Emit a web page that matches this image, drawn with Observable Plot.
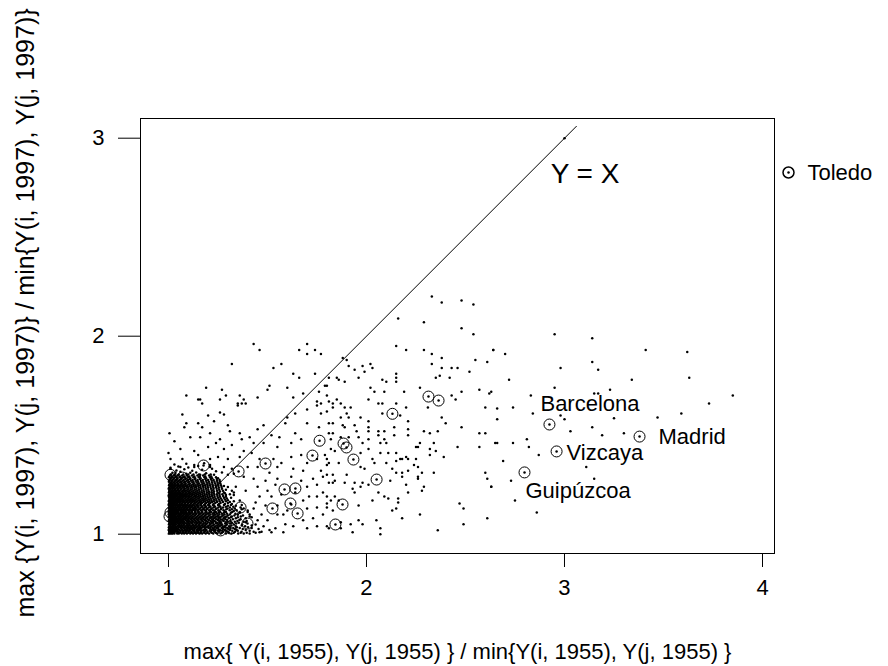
<!DOCTYPE html>
<html>
<head>
<meta charset="utf-8">
<script src="https://cdn.jsdelivr.net/npm/d3@7"></script>
<script src="https://cdn.jsdelivr.net/npm/@observablehq/plot@0.6"></script>
<style>
  html, body { margin: 0; padding: 0; background: #fff; }
  #chart { width: 888px; height: 666px; overflow: hidden; }
</style>
</head>
<body>
<div id="chart"></div>
<script>
// ---- axis ticks and titles ----
const xTicks = [1, 2, 3, 4];
const yTicks = [1, 2, 3];
const xTitle = "max{ Y(i, 1955), Y(j, 1955) } / min{Y(i, 1955), Y(j, 1955) }";
const yTitle = "max {Y(i, 1997), Y(j, 1997)} / min{Y(i, 1997), Y(j, 1997)}";

// ---- reference line Y = X (segment ends) ----
const lineEnds = [1, 3.06];
const lineLabel = "Y = X";
const lineLabelPos = [2.93, 2.82];

// ---- scattered pairs (x = 1955 ratio, y = 1997 ratio) ----
const pairs = [
  [1.43,1.96],[1.46,1.93],[1.32,1.86],[1.53,1.84],[1.57,1.86],[1.66,1.93],[1.70,1.96],[1.70,1.91],
  [1.74,1.93],[1.77,1.91],[1.63,1.81],[1.66,1.79],[1.74,1.81],[1.19,1.74],[1.27,1.73],[1.09,1.70],
  [1.16,1.68],[1.26,1.68],[1.29,1.70],[1.36,1.70],[1.38,1.68],[1.45,1.69],[1.51,1.75],[1.50,1.73],
  [1.60,1.74],[1.63,1.69],[1.68,1.71],[1.76,1.72],[1.80,1.75],[1.80,1.70],[1.75,1.67],[1.77,1.66],
  [1.35,1.66],[1.39,1.66],[1.17,1.66],[1.81,1.79],
  [2.33,2.20],[2.38,2.17],[2.48,2.18],[2.54,2.16],[2.16,2.09],[2.29,2.07],[2.48,2.04],[2.54,2.01],
  [2.15,1.95],[2.20,1.93],[2.29,1.93],[2.33,1.91],[2.38,1.89],[2.64,1.93],[2.55,1.88],[2.61,1.87],
  [2.33,1.86],[2.38,1.84],[2.43,1.84],[2.46,1.84],[2.52,1.82],[2.35,1.79],[2.37,1.80],[2.42,1.79],
  [1.88,1.89],[1.90,1.88],[1.91,1.85],[1.94,1.83],[1.98,1.85],[2.02,1.86],[2.03,1.84],[1.99,1.82],
  [1.96,1.79],[1.85,1.79],[1.86,1.78],[1.89,1.77],[2.08,1.78],[2.10,1.77],[2.15,1.81],[2.15,1.79],
  [2.15,1.77],[2.02,1.74],[2.04,1.72],[2.09,1.72],[2.19,1.72],[2.27,1.74],[2.48,1.72],[2.57,1.73],
  [2.62,1.71],[2.43,1.70],[2.45,1.68],[2.01,1.68],[2.06,1.66],[2.08,1.66],[2.15,1.66],[1.85,1.68],
  [1.87,1.66],[1.79,1.75],[1.81,1.67],
  [1.83,1.66],[1.80,1.62],[1.83,1.64],[1.89,1.64],[1.92,1.64],[1.90,1.61],[1.87,1.59],[1.91,1.59],
  [1.97,1.59],[2.01,1.57],[2.08,1.61],[2.20,1.64],[2.17,1.60],[2.21,1.57],[2.31,1.64],[2.38,1.59],
  [2.40,1.56],[2.60,1.64],[1.81,1.56],[1.83,1.56],[1.88,1.55],[1.89,1.54],[1.94,1.55],[2.01,1.54],
  [1.95,1.52],[1.83,1.51],[1.87,1.49],[1.91,1.49],[1.96,1.49],[2.01,1.52],[2.06,1.52],[2.09,1.52],
  [2.06,1.50],[2.09,1.48],[2.14,1.54],[2.14,1.50],[2.21,1.53],[2.21,1.50],[2.29,1.52],[2.32,1.51],
  [2.36,1.52],[2.48,1.54],[2.57,1.51],[2.60,1.51],[2.65,1.46],[1.82,1.48],[1.82,1.43],[1.84,1.42],
  [1.98,1.46],[2.01,1.48],[2.07,1.46],[2.10,1.46],[2.01,1.43],[1.97,1.41],[2.07,1.41],[2.11,1.41],
  [2.15,1.41],[2.17,1.38],[2.20,1.39],[2.25,1.44],[2.27,1.46],[2.26,1.44],[2.32,1.43],[2.34,1.46],
  [2.35,1.42],[2.46,1.44],[2.57,1.44],[1.80,1.38],[1.81,1.36],[1.86,1.36],[1.97,1.34],[1.99,1.33],
  [2.03,1.38],[2.04,1.36],[2.10,1.36],[2.15,1.37],[2.18,1.38],[2.21,1.38],[2.25,1.38],[2.24,1.35],
  [2.26,1.34],[2.32,1.40],[2.39,1.39],[2.13,1.33],[2.15,1.31],[2.18,1.31],[2.21,1.32],[2.28,1.31],
  [2.34,1.31],[2.60,1.31],[2.61,1.28],[2.63,1.24],[1.80,1.30],[1.83,1.30],[1.84,1.27],[1.83,1.26],
  [1.90,1.30],[1.89,1.26],[1.94,1.26],[1.98,1.26],[2.01,1.25],[1.97,1.24],[1.93,1.23],[1.94,1.21],
  [2.12,1.27],[2.18,1.29],[2.26,1.29],[2.26,1.28],[2.29,1.24],[2.28,1.22],[2.20,1.25],[2.21,1.21],
  [2.06,1.21],[2.09,1.19],[2.11,1.18],[2.16,1.18],[2.16,1.16],[2.13,1.12],[2.15,1.13],[2.03,1.17],
  [1.80,1.19],[1.82,1.17],[1.84,1.19],[1.86,1.17],[1.96,1.145],[1.80,1.135],[1.83,1.12],[2.18,1.08],
  [2.27,1.10],[2.05,1.07],[1.96,1.07],[1.98,1.05],[1.92,1.05],[1.87,1.06],[1.81,1.03],[1.87,1.03],
  [1.93,1.01],[2.07,1.03],[2.07,1.00],[2.36,1.02],[2.47,1.155],[2.49,1.13],[2.49,1.05],[2.61,1.08],
  [2.95,2.01],[3.14,1.99],[2.64,1.93],[2.70,1.91],[3.14,1.87],[3.17,1.83],[2.98,1.84],[2.72,1.78],
  [3.34,1.78],[2.95,1.74],[3.15,1.71],[3.17,1.71],[3.23,1.73],[2.83,1.70],[2.63,1.72],[2.66,1.635],
  [2.74,1.64],[2.84,1.61],[2.98,1.60],[3.00,1.58],[2.66,1.58],[3.25,1.585],[3.03,1.52],[3.14,1.54],
  [3.19,1.50],[3.30,1.51],[2.81,1.48],[2.66,1.46],[2.74,1.46],[2.82,1.44],[2.87,1.40],[2.69,1.37],
  [3.11,1.34],[2.73,1.27],[3.15,1.28],[2.63,1.24],[2.75,1.17],[2.86,1.11],
  [3.41,1.93],[3.62,1.92],[3.63,1.79],[3.85,1.70],[3.73,1.66],[3.59,1.61],[3.47,1.59],[3.00,3.00],
  [1.15,1.68],[1.26,1.615],[1.28,1.605],[1.35,1.65],[1.37,1.66],[1.07,1.605],[1.09,1.56],[1.08,1.54],
  [1.15,1.56],[1.17,1.54],[1.20,1.60],[1.23,1.57],[1.30,1.55],[1.31,1.52],[1.21,1.51],[1.16,1.49],
  [1.005,1.51],[1.03,1.47],[1.11,1.49],[1.26,1.48],[1.24,1.46],[1.36,1.51],[1.37,1.48],[1.41,1.49],
  [1.45,1.53],[1.48,1.55],[1.52,1.50],[1.56,1.49],[1.59,1.56],[1.60,1.59],[1.64,1.61],[1.70,1.63],
  [1.75,1.65],[1.77,1.61],[1.70,1.56],[1.76,1.54],[1.81,1.51],[1.64,1.51],[1.67,1.48],[1.62,1.46],
  [1.55,1.44],[1.48,1.46],[1.43,1.46],[1.38,1.42],[1.32,1.45],[1.28,1.43],[1.20,1.44],[1.13,1.42],
  [1.06,1.43],[1.00,1.41],[1.01,1.38],[1.07,1.38],[1.15,1.40],[1.21,1.38],[1.25,1.39],[1.30,1.38],
  [1.36,1.39],[1.42,1.41],[1.46,1.38],[1.53,1.38],[1.57,1.36],[1.62,1.39],[1.67,1.40],[1.70,1.36],
  [1.75,1.38],[1.79,1.40],[1.80,1.35],[1.77,1.32],[1.68,1.32],[1.63,1.33],[1.55,1.34],[1.51,1.31],
  [1.45,1.34],[1.40,1.34],[1.38,1.29],[1.32,1.33],[1.28,1.34],[1.21,1.35],[1.13,1.34],[1.06,1.34],
  [1.01,1.33],[1.035,1.31],[1.11,1.31],[1.16,1.30],[1.23,1.30],[1.30,1.30],[1.43,1.28],[1.49,1.27],
  [1.55,1.28],[1.62,1.29],[1.67,1.27],[1.73,1.28],[1.78,1.29],[1.81,1.26],[1.75,1.25],[1.70,1.24],
  [1.54,1.25],[1.50,1.22],[1.45,1.24],[1.39,1.22],[1.34,1.24],[1.78,1.21],[1.75,1.19],[1.71,1.19],
  [1.68,1.17],[1.57,1.20],[1.52,1.19],[1.46,1.19],[1.55,1.145],[1.49,1.145],[1.47,1.10],[1.55,1.10],
  [1.58,1.10],[1.70,1.13],[1.75,1.135],[1.80,1.155],[1.78,1.10],[1.73,1.08],[1.68,1.07],[1.75,1.04],
  [1.80,1.04],[1.70,1.03],[1.63,1.04],[1.59,1.05],[1.54,1.03],[1.48,1.04],[1.58,1.01],[1.52,1.01],
  [1.46,1.01],[1.45,1.07],[1.41,1.09],[1.43,1.13],[1.36,1.17],[1.40,1.12],[1.33,1.21],[1.44,1.16],
  [1.60,1.12],[1.64,1.21],[1.39,1.06],[1.50,1.07],[1.62,1.15],[1.35,1.10],
  [1.02,1.31],[1.06,1.315],[1.09,1.305],[1.14,1.312],[1.19,1.308],[1.24,1.318],[1.04,1.322],
  [1.08,1.328],[1.12,1.32],[1.17,1.325],[1.22,1.33],[1.01,1.336],[1.05,1.342],[1.10,1.337],
  [1.15,1.345],[1.21,1.34],[1.03,1.352],[1.09,1.356],[1.13,1.35],[1.18,1.358],[1.27,1.312],[1.33,1.305]
];

// dense core near (1, 1): each row = [y, list of x values]
const coreRows = [
  [1.003, [1.002,1.008,1.015,1.021,1.03,1.044,1.052,1.067,1.079,1.093,1.11,1.124,1.139,1.156,1.17,1.188,1.205,1.226,1.247,1.263,1.29,1.318,1.352,1.38,1.41]],
  [1.007, [1.005,1.018,1.026,1.047,1.058,1.073,1.085,1.102,1.115,1.133,1.149,1.163,1.18,1.196,1.218,1.24,1.27,1.305,1.33,1.365,1.395,1.44]],
  [1.012, [1.004,1.011,1.019,1.027,1.038,1.049,1.061,1.072,1.088,1.1,1.117,1.131,1.146,1.162,1.181,1.197,1.214,1.233,1.255,1.277,1.301,1.336,1.369,1.43,1.47]],
  [1.017, [1.003,1.012,1.03,1.045,1.06,1.078,1.091,1.106,1.128,1.15,1.168,1.186,1.208,1.23,1.25,1.272,1.293,1.322,1.35,1.41]],
  [1.021, [1.001,1.007,1.016,1.024,1.033,1.042,1.055,1.069,1.083,1.097,1.108,1.122,1.142,1.158,1.176,1.192,1.219,1.238,1.259,1.284,1.31,1.344,1.39,1.51]],
  [1.026, [1.009,1.02,1.037,1.048,1.066,1.081,1.094,1.114,1.13,1.147,1.163,1.185,1.211,1.229,1.252,1.275,1.302,1.335,1.375,1.455]],
  [1.031, [1.003,1.013,1.022,1.029,1.041,1.05,1.063,1.076,1.09,1.104,1.119,1.135,1.151,1.166,1.183,1.202,1.222,1.244,1.268,1.297,1.327,1.36,1.42]],
  [1.035, [1.002,1.016,1.026,1.038,1.055,1.068,1.082,1.097,1.11,1.126,1.141,1.158,1.172,1.193,1.211,1.232,1.25,1.276,1.312,1.345,1.402]],
  [1.040, [1.006,1.012,1.02,1.035,1.046,1.058,1.071,1.086,1.099,1.113,1.128,1.144,1.16,1.179,1.199,1.216,1.236,1.258,1.283,1.306,1.34,1.387]],
  [1.044, [1.008,1.024,1.031,1.052,1.064,1.077,1.092,1.106,1.12,1.135,1.152,1.169,1.185,1.205,1.225,1.246,1.266,1.29,1.318,1.37,1.42]],
  [1.049, [1.002,1.01,1.018,1.027,1.039,1.053,1.066,1.079,1.095,1.107,1.125,1.138,1.155,1.172,1.189,1.21,1.229,1.252,1.271,1.295,1.33,1.372,1.44]],
  [1.054, [1.004,1.015,1.022,1.035,1.048,1.061,1.074,1.089,1.103,1.118,1.142,1.16,1.178,1.195,1.217,1.24,1.26,1.286,1.31,1.342]],
  [1.058, [1.005,1.014,1.025,1.032,1.044,1.057,1.07,1.082,1.098,1.115,1.132,1.148,1.163,1.186,1.207,1.225,1.248,1.266,1.292,1.32,1.355]],
  [1.063, [1.007,1.02,1.029,1.041,1.052,1.066,1.078,1.094,1.108,1.123,1.141,1.157,1.176,1.198,1.219,1.238,1.261,1.3,1.335,1.38]],
  [1.067, [1.001,1.009,1.017,1.028,1.037,1.048,1.062,1.074,1.091,1.103,1.12,1.136,1.152,1.17,1.19,1.213,1.231,1.256,1.279,1.312,1.348,1.395]],
  [1.072, [1.003,1.014,1.025,1.034,1.046,1.059,1.071,1.086,1.099,1.116,1.131,1.148,1.166,1.184,1.204,1.225,1.25,1.272,1.296,1.358]],
  [1.076, [1.004,1.012,1.023,1.031,1.043,1.055,1.068,1.081,1.096,1.111,1.127,1.143,1.161,1.177,1.198,1.22,1.242,1.263,1.288,1.325,1.364]],
  [1.081, [1.008,1.016,1.028,1.039,1.049,1.06,1.074,1.088,1.103,1.118,1.134,1.151,1.169,1.188,1.21,1.23,1.253,1.281,1.305,1.34,1.39]],
  [1.085, [1.002,1.008,1.019,1.026,1.036,1.051,1.064,1.078,1.092,1.106,1.121,1.14,1.157,1.174,1.194,1.217,1.235,1.26,1.286,1.315,1.35,1.42]],
  [1.090, [1.004,1.012,1.022,1.032,1.044,1.055,1.069,1.083,1.097,1.111,1.127,1.145,1.162,1.18,1.2,1.222,1.244,1.268,1.292,1.32,1.365]],
  [1.094, [1.006,1.015,1.024,1.034,1.047,1.059,1.073,1.087,1.101,1.116,1.133,1.15,1.167,1.185,1.206,1.228,1.25,1.274,1.3,1.333,1.376]],
  [1.099, [1.001,1.009,1.019,1.029,1.039,1.052,1.063,1.077,1.092,1.106,1.122,1.137,1.155,1.173,1.191,1.212,1.234,1.257,1.283,1.31,1.35,1.41]],
  [1.103, [1.003,1.011,1.021,1.03,1.042,1.054,1.067,1.08,1.094,1.109,1.126,1.141,1.159,1.178,1.2,1.223,1.245,1.27,1.296,1.338]],
  [1.108, [1.006,1.016,1.026,1.036,1.048,1.06,1.073,1.086,1.1,1.116,1.133,1.15,1.166,1.186,1.207,1.23,1.255,1.28,1.315,1.36]],
  [1.112, [1.001,1.009,1.018,1.029,1.039,1.05,1.065,1.077,1.089,1.105,1.119,1.137,1.153,1.171,1.192,1.214,1.239,1.261,1.29,1.322,1.36,1.4]],
  [1.117, [1.002,1.012,1.023,1.035,1.046,1.061,1.074,1.087,1.102,1.118,1.134,1.15,1.168,1.189,1.21,1.233,1.257,1.283,1.33]],
  [1.121, [1.004,1.013,1.022,1.033,1.045,1.057,1.07,1.084,1.099,1.113,1.13,1.146,1.165,1.183,1.205,1.226,1.252,1.278,1.309,1.344]],
  [1.126, [1.007,1.017,1.027,1.038,1.05,1.062,1.076,1.091,1.106,1.121,1.137,1.155,1.175,1.193,1.215,1.238,1.265,1.292,1.32,1.37]],
  [1.130, [1.002,1.01,1.02,1.028,1.04,1.052,1.066,1.079,1.093,1.108,1.124,1.14,1.158,1.177,1.196,1.218,1.243,1.267,1.298,1.334,1.38]],
  [1.135, [1.003,1.012,1.022,1.033,1.044,1.056,1.069,1.083,1.098,1.113,1.129,1.147,1.164,1.184,1.204,1.227,1.252,1.276,1.31]],
  [1.139, [1.005,1.015,1.025,1.036,1.048,1.061,1.075,1.09,1.104,1.12,1.136,1.152,1.172,1.19,1.212,1.235,1.262,1.29,1.327]],
  [1.144, [1.006,1.014,1.024,1.034,1.045,1.057,1.07,1.084,1.099,1.114,1.131,1.148,1.167,1.186,1.207,1.23,1.257,1.3,1.34]],
  [1.148, [1.001,1.008,1.017,1.027,1.038,1.05,1.063,1.077,1.091,1.107,1.123,1.143,1.16,1.18,1.2,1.224,1.25,1.28,1.315,1.37]],
  [1.153, [1.002,1.011,1.021,1.031,1.042,1.055,1.068,1.082,1.097,1.112,1.128,1.146,1.164,1.185,1.205,1.228,1.255,1.285,1.32]],
  [1.157, [1.004,1.012,1.022,1.032,1.044,1.057,1.071,1.085,1.1,1.116,1.133,1.151,1.169,1.19,1.211,1.236,1.263,1.3]],
  [1.162, [1.007,1.017,1.027,1.037,1.05,1.062,1.077,1.092,1.107,1.122,1.14,1.158,1.177,1.199,1.22,1.245,1.275,1.31]],
  [1.166, [1.002,1.01,1.019,1.029,1.041,1.053,1.067,1.081,1.096,1.112,1.128,1.146,1.165,1.185,1.207,1.23,1.258,1.29,1.33]],
  [1.171, [1.003,1.013,1.023,1.034,1.046,1.058,1.072,1.087,1.102,1.118,1.135,1.154,1.174,1.195,1.217,1.242,1.27,1.3]],
  [1.175, [1.006,1.016,1.026,1.037,1.049,1.062,1.076,1.092,1.108,1.125,1.142,1.162,1.183,1.205,1.229,1.255,1.285]],
  [1.180, [1.008,1.018,1.029,1.041,1.053,1.067,1.082,1.098,1.114,1.131,1.15,1.17,1.19,1.213,1.238,1.265,1.295]],
  [1.184, [1.003,1.011,1.021,1.033,1.045,1.058,1.072,1.087,1.103,1.12,1.138,1.156,1.177,1.2,1.224,1.25,1.28,1.316]],
  [1.189, [1.004,1.014,1.024,1.036,1.049,1.063,1.077,1.093,1.109,1.127,1.145,1.164,1.186,1.209,1.233,1.26,1.29]],
  [1.193, [1.001,1.008,1.018,1.028,1.04,1.054,1.068,1.083,1.099,1.116,1.134,1.153,1.174,1.197,1.22,1.247,1.276]],
  [1.198, [1.002,1.011,1.021,1.032,1.044,1.058,1.073,1.088,1.105,1.122,1.141,1.161,1.183,1.207,1.231,1.258,1.29,1.33]],
  [1.202, [1.005,1.014,1.024,1.036,1.05,1.064,1.079,1.095,1.112,1.13,1.15,1.171,1.193,1.218,1.244,1.272,1.31]],
  [1.207, [1.008,1.018,1.029,1.042,1.056,1.07,1.086,1.103,1.12,1.139,1.159,1.181,1.205,1.229,1.256,1.285]],
  [1.211, [1.002,1.011,1.021,1.033,1.046,1.06,1.075,1.091,1.109,1.128,1.148,1.17,1.194,1.219,1.248,1.28]],
  [1.216, [1.004,1.014,1.025,1.037,1.051,1.066,1.082,1.099,1.117,1.137,1.157,1.18,1.204,1.23,1.26]],
  [1.220, [1.004,1.015,1.027,1.04,1.055,1.071,1.088,1.106,1.125,1.145,1.168,1.192,1.218,1.245,1.275,1.32]],
  [1.225, [1.007,1.019,1.032,1.046,1.061,1.078,1.095,1.113,1.133,1.154,1.177,1.201,1.227,1.256,1.29]],
  [1.229, [1.001,1.01,1.022,1.035,1.05,1.066,1.083,1.101,1.121,1.142,1.165,1.189,1.215,1.243,1.27]],
  [1.234, [1.003,1.015,1.028,1.042,1.058,1.074,1.092,1.111,1.131,1.153,1.176,1.2,1.226,1.254]],
  [1.238, [1.006,1.018,1.031,1.046,1.062,1.079,1.098,1.118,1.139,1.162,1.187,1.212,1.24,1.268,1.3]],
  [1.243, [1.009,1.022,1.036,1.052,1.069,1.088,1.107,1.128,1.15,1.174,1.198,1.224,1.252,1.28]],
  [1.247, [1.003,1.014,1.027,1.042,1.058,1.076,1.095,1.116,1.137,1.16,1.185,1.21,1.238,1.265]],
  [1.252, [1.005,1.017,1.031,1.047,1.065,1.084,1.104,1.125,1.147,1.171,1.196,1.222,1.25]],
  [1.256, [1.008,1.02,1.034,1.05,1.068,1.087,1.108,1.13,1.154,1.18,1.207,1.236,1.262]],
  [1.261, [1.011,1.025,1.041,1.059,1.078,1.098,1.12,1.142,1.167,1.193,1.22,1.248]],
  [1.265, [1.002,1.015,1.03,1.046,1.064,1.083,1.104,1.126,1.15,1.176,1.204,1.232,1.26]],
  [1.270, [1.003,1.018,1.034,1.052,1.071,1.092,1.114,1.138,1.164,1.19,1.218,1.245]],
  [1.274, [1.006,1.021,1.038,1.057,1.077,1.099,1.122,1.147,1.173,1.2,1.228,1.258]],
  [1.279, [1.009,1.026,1.044,1.064,1.086,1.109,1.133,1.159,1.186,1.214,1.244]],
  [1.283, [1.011,1.027,1.045,1.065,1.087,1.11,1.135,1.162,1.19,1.22,1.25]],
  [1.288, [1.002,1.017,1.035,1.056,1.078,1.101,1.126,1.153,1.181,1.21,1.24]],
  [1.292, [1.004,1.019,1.037,1.058,1.081,1.105,1.131,1.158,1.186,1.216]],
  [1.297, [1.009,1.027,1.047,1.069,1.093,1.119,1.146,1.175,1.205]],
  [1.301, [1.013,1.031,1.052,1.075,1.1,1.126,1.154,1.183,1.213]]
];

// ---- pairs involving Toledo (circled) ----
const toledoPairs = [
  [2.313,1.695],[2.364,1.675],[2.131,1.608],[1.884,1.458],[1.899,1.438],[1.934,1.377],[2.051,1.276],
  [1.879,1.150],[1.843,1.049],[1.763,1.472],[1.727,1.397],[1.49,1.357],[1.177,1.347],[1.01,1.30],
  [1.07,1.286],[1.354,1.317],[1.586,1.226],[1.641,1.231],[1.616,1.155],[1.525,1.13],[1.652,1.105],
  [1.01,1.11],[1.005,1.09],[1.06,1.095],[1.212,1.085],[1.253,1.085],[1.364,1.135],[1.263,1.019],
  [1.313,1.029],[1.126,1.034],[1.399,1.054],[1.076,1.221],[1.16,1.03],[1.29,1.06],[1.11,1.145],
  [1.035,1.195],
  [2.924,1.554],[3.379,1.493],[2.960,1.418],[2.798,1.312]
];

// ---- named provinces (pair with Toledo) ----
const provNames = ["Barcelona", "Madrid", "Vizcaya", "Guipúzcoa"];
const provX = [2.924, 3.379, 2.960, 2.798];
const provY = [1.554, 1.493, 1.418, 1.312];
const provDx = [-9, 19, 10, 1];
const provDy = [-21, 0, 2, 19];

const legendLabel = "Toledo";

// ---- build tables ----
const pts = pairs.map(([x, y]) => ({x, y}))
  .concat(coreRows.flatMap(([y, xs]) => xs.map(x => ({x, y}))));
const circ = toledoPairs.map(([x, y]) => ({x, y}));
const provs = provNames.map((name, i) => ({name, x: provX[i], y: provY[i], dx: provDx[i], dy: provDy[i]}));

const font = "'Liberation Sans', Arial, Helvetica, sans-serif";

const chart = Plot.plot({
  width: 888,
  height: 666,
  marginLeft: 140,
  marginRight: 114,
  marginTop: 118,
  marginBottom: 113,
  style: {fontFamily: font, fontSize: "22px", background: "white", color: "black"},
  x: {domain: [0.8586, 4.0606], ticks: xTicks, tickSize: 14, tickPadding: 12, tickFormat: d => String(d), label: null},
  y: {domain: [0.9025, 3.0995], ticks: yTicks, tickSize: 22, tickPadding: 14, tickFormat: d => String(d), label: null},
  marks: [
    Plot.frame({stroke: "black", strokeWidth: 1}),
    Plot.line([lineEnds[0], lineEnds[1]].map(v => ({x: v, y: v})), {x: "x", y: "y", stroke: "black", strokeWidth: 1}),
    Plot.dot(pts, {x: "x", y: "y", r: 1.25, fill: "black", stroke: "none"}),
    Plot.dot(circ, {x: "x", y: "y", r: 5.5, fill: "none", stroke: "black", strokeWidth: 1}),
    Plot.dot(circ, {x: "x", y: "y", r: 1.25, fill: "black", stroke: "none"}),
    ...provs.map(p => Plot.text([p], {x: "x", y: "y", text: "name", dx: p.dx, dy: p.dy, textAnchor: "start", fontSize: 22, fill: "black"})),
    Plot.text([lineLabel], {x: () => lineLabelPos[0], y: () => lineLabelPos[1], text: d => d, textAnchor: "start", fontSize: 28, fill: "black"}),
    // legend
    Plot.dot([legendLabel], {frameAnchor: "top-right", dx: 14, dy: 54, r: 5.5, fill: "none", stroke: "black"}),
    Plot.dot([legendLabel], {frameAnchor: "top-right", dx: 14, dy: 54, r: 1.25, fill: "black", stroke: "none"}),
    Plot.text([legendLabel], {frameAnchor: "top-right", dx: 33, dy: 54, textAnchor: "start", lineAnchor: "middle", fontSize: 22, fill: "black"}),
    // axis titles
    Plot.text([xTitle], {frameAnchor: "bottom", dy: 98, textAnchor: "middle", lineAnchor: "middle", fontSize: 22, fill: "black"}),
    Plot.text([yTitle], {frameAnchor: "left", rotate: -90, dx: -115, dy: -23, textAnchor: "middle", lineAnchor: "middle", fontSize: 25, fill: "black"})
  ]
});
document.getElementById("chart").appendChild(chart);
</script>
</body>
</html>
